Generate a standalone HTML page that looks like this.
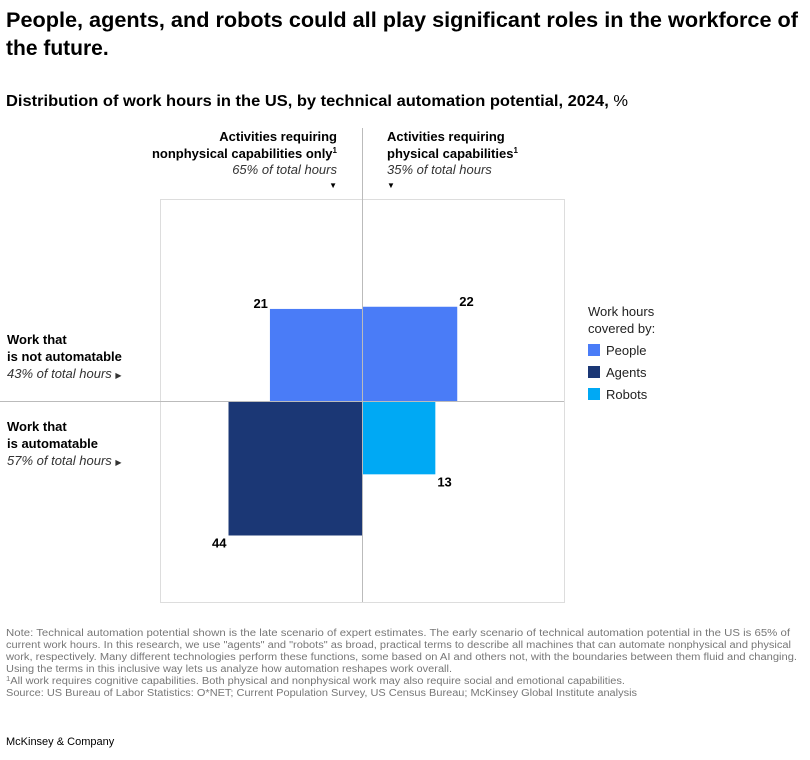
<!DOCTYPE html>
<html><head><meta charset="utf-8"><style>
body{margin:0;background:#fff;}
svg text{font-family:"Liberation Sans",Arial,sans-serif;}
</style></head><body>
<svg id="chart" width="810" height="755" viewBox="0 0 810 755" xmlns="http://www.w3.org/2000/svg">
<text x="6" y="27" font-size="21" font-weight="bold" fill="#000" textLength="792" lengthAdjust="spacingAndGlyphs">People, agents, and robots could all play significant roles in the workforce of</text>
<text x="6" y="55" font-size="21" font-weight="bold" fill="#000">the future.</text>
<text x="6" y="106" font-size="16" fill="#000" textLength="622" lengthAdjust="spacingAndGlyphs"><tspan font-weight="bold">Distribution of work hours in the US, by technical automation potential, 2024,</tspan> %</text>

<rect x="160.5" y="199.5" width="404" height="403" fill="none" stroke="#ddd"/>
<g id="bars"></g>
<line x1="0" y1="401.5" x2="564" y2="401.5" stroke="#bbb"/>
<line x1="362.5" y1="128" x2="362.5" y2="602" stroke="#bbb"/>
<g id="labels"></g>

<g font-size="13" text-anchor="end">
<text x="337" y="141" font-weight="bold">Activities requiring</text>
<text x="337" y="158" font-weight="bold">nonphysical capabilities only<tspan font-size="8" dy="-5">1</tspan></text>
<text x="337" y="174" font-style="italic" fill="#333">65% of total hours</text>
<text x="337" y="188" font-size="8">▼</text>
</g>
<g font-size="13">
<text x="387" y="141" font-weight="bold">Activities requiring</text>
<text x="387" y="158" font-weight="bold">physical capabilities<tspan font-size="8" dy="-5">1</tspan></text>
<text x="387" y="174" font-style="italic" fill="#333">35% of total hours</text>
<text x="387" y="188" font-size="8">▼</text>
</g>
<g font-size="13">
<text x="7" y="344" font-weight="bold">Work that</text>
<text x="7" y="361" font-weight="bold">is not automatable</text>
<text x="7" y="378" font-style="italic" fill="#333">43% of total hours <tspan font-size="8" font-style="normal">▶</tspan></text>
</g>
<g font-size="13">
<text x="7" y="431" font-weight="bold">Work that</text>
<text x="7" y="448" font-weight="bold">is automatable</text>
<text x="7" y="465" font-style="italic" fill="#333">57% of total hours <tspan font-size="8" font-style="normal">▶</tspan></text>
</g>

<g font-size="13" fill="#222">
<text x="588" y="316">Work hours</text>
<text x="588" y="333">covered by:</text>
<rect x="588" y="344" width="12" height="12" fill="#4a7cf7"/>
<text x="606" y="355">People</text>
<rect x="588" y="366" width="12" height="12" fill="#1b3775"/>
<text x="606" y="377">Agents</text>
<rect x="588" y="388" width="12" height="12" fill="#00a9f4"/>
<text x="606" y="399">Robots</text>
</g>

<g font-size="10" fill="#777">
<text x="6" y="636" textLength="784" lengthAdjust="spacingAndGlyphs">Note: Technical automation potential shown is the late scenario of expert estimates. The early scenario of technical automation potential in the US is 65% of</text>
<text x="6" y="648" textLength="785" lengthAdjust="spacingAndGlyphs">current work hours. In this research, we use "agents" and "robots" as broad, practical terms to describe all machines that can automate nonphysical and physical</text>
<text x="6" y="660" textLength="791" lengthAdjust="spacingAndGlyphs">work, respectively. Many different technologies perform these functions, some based on AI and others not, with the boundaries between them fluid and changing.</text>
<text x="6" y="672" textLength="446" lengthAdjust="spacingAndGlyphs">Using the terms in this inclusive way lets us analyze how automation reshapes work overall.</text>
<text x="6" y="684" textLength="619" lengthAdjust="spacingAndGlyphs"><tspan font-size="7" dy="-3">1</tspan><tspan dy="3">All work requires cognitive capabilities. Both physical and nonphysical work may also require social and emotional capabilities.</tspan></text>
<text x="6" y="696" textLength="631" lengthAdjust="spacingAndGlyphs">Source: US Bureau of Labor Statistics: O*NET; Current Population Survey, US Census Bureau; McKinsey Global Institute analysis</text>
</g>
<text x="6" y="745" font-size="11" fill="#000">McKinsey &amp; Company</text>
</svg>
<script>
const quadrants = ["nonphysical-not-automatable","physical-not-automatable","nonphysical-automatable","physical-automatable"];
const coverers = ["people","people","agents","robots"];
const values = [21, 22, 44, 13];
const colorMap = {people:"#4a7cf7", agents:"#1b3775", robots:"#00a9f4"};
const cx = 362.5, cy = 401.5, k = 20.2;
const side = v => k * Math.sqrt(v);
const NS = "http://www.w3.org/2000/svg";
const bars = document.getElementById("bars"), labels = document.getElementById("labels");
values.forEach((v, i) => {
  const s = side(v);
  const left = (i % 2 === 0), top = (i < 2);
  const x = left ? cx - s : cx, y = top ? cy - s : cy;
  const r = document.createElementNS(NS, "rect");
  r.setAttribute("x", x); r.setAttribute("y", y);
  r.setAttribute("width", s); r.setAttribute("height", s);
  r.setAttribute("fill", colorMap[coverers[i]]);
  
  
  bars.appendChild(r);
  const t = document.createElementNS(NS, "text");
  t.setAttribute("font-size", "13"); t.setAttribute("font-weight", "bold");
  t.setAttribute("text-anchor", left ? "end" : "start");
  t.setAttribute("x", left ? x - 2 : x + s + 2);
  t.setAttribute("y", top ? y - 1 : y + s + 12);
  t.textContent = v;
  
  
  labels.appendChild(t);
});
</script>
</body></html>
